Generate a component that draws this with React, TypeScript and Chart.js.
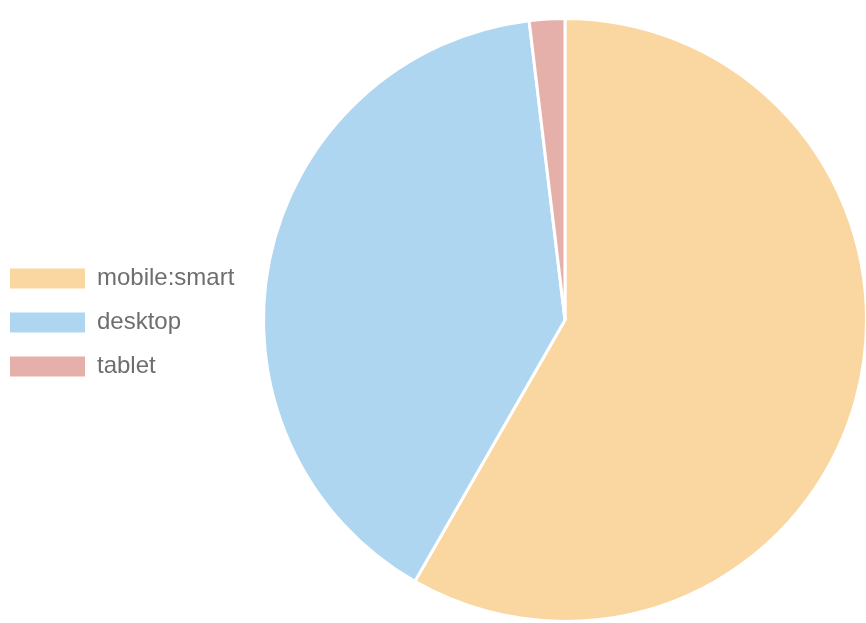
import React, { useEffect, useRef } from "react";
import { Chart, registerables } from "chart.js";

Chart.register(...registerables);

const categories = ["mobile:smart", "desktop", "tablet"];
const shares = [58.3, 39.8, 1.9];
const colors = ["#FAD7A0", "#AED6F1", "#E6B0AA"];

export default function App() {
  const ref = useRef<HTMLCanvasElement | null>(null);

  useEffect(() => {
    if (!ref.current) return;
    const chart = new Chart(ref.current, {
      type: "pie",
      data: {
        labels: categories,
        datasets: [
          {
            data: shares,
            backgroundColor: colors,
            borderColor: "#ffffff",
            borderWidth: 3,
          },
        ],
      },
      options: {
        animation: false,
        responsive: true,
        maintainAspectRatio: false,
        devicePixelRatio: 1,
        layout: { padding: 0 },
        plugins: {
          tooltip: { enabled: false },
          legend: {
            position: "chartArea",
            align: "center",
            title: {
              display: true,
              text: " ",
              font: { size: 5, lineHeight: 1 },
              padding: 0,
            },
            labels: {
              boxWidth: 75,
              boxHeight: 20,
              padding: 20,
              color: "#6e6e6e",
              font: { family: "'Liberation Sans', Arial, sans-serif", size: 24 },
              generateLabels: (c: any) => {
                const items = Chart.overrides.pie.plugins.legend.labels.generateLabels(c);
                return items.map((it: any) => ({ ...it, lineWidth: 0 }));
              },
            },
          },
        },
      },
    } as any);
    return () => chart.destroy();
  }, []);

  return (
    <div
      style={{
        position: "fixed",
        left: -10,
        top: 17,
        width: 1150,
        height: 606,
      }}
    >
      <canvas ref={ref} />
    </div>
  );
}
